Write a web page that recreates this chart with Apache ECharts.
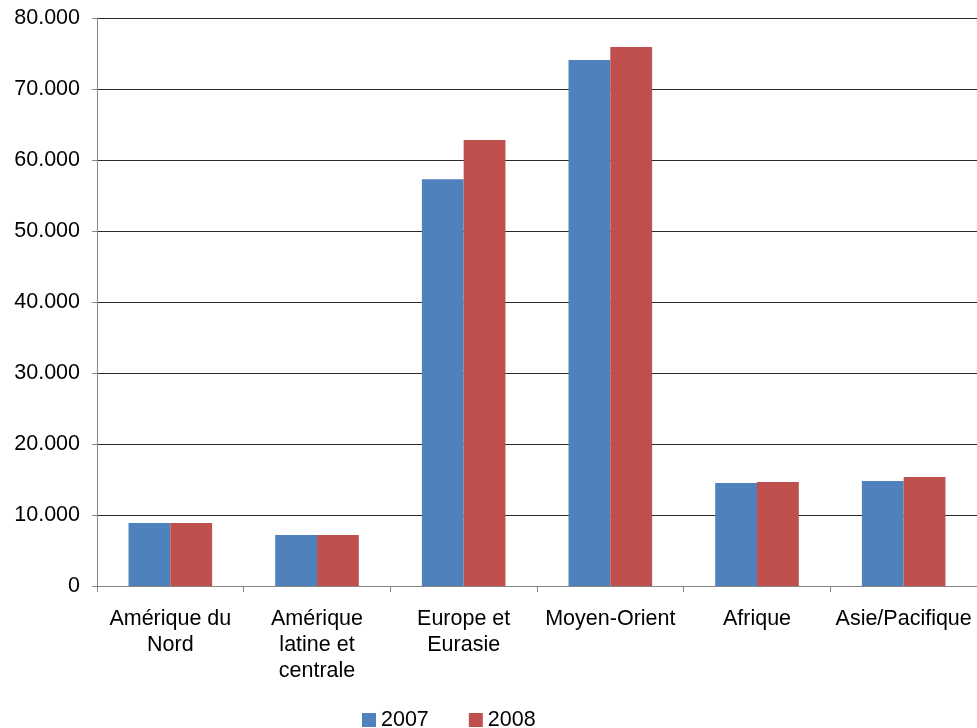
<!DOCTYPE html>
<html>
<head>
<meta charset="utf-8">
<script src="https://cdn.jsdelivr.net/npm/echarts@6/dist/echarts.min.js"></script>
<style>
  html, body { margin: 0; padding: 0; background: #fff; }
  #chart { width: 977px; height: 728px; }
</style>
</head>
<body>
<div id="chart"></div>
<script>
// Regions (line breaks follow the axis label layout)
const regions = [
  'Amérique du\nNord',
  'Amérique\nlatine et\ncentrale',
  'Europe et\nEurasie',
  'Moyen-Orient',
  'Afrique',
  'Asie/Pacifique'
];
const seriesNames = ['2007', '2008'];
const values2007 = [8870, 7180, 57300, 74100, 14500, 14800];
const values2008 = [8870, 7180, 62800, 75900, 14650, 15350];

const FONT = 'Liberation Sans, Arial, sans-serif';
const FONT_SIZE = 21.5;

// Thousands separator as a dot: 80000 -> "80.000"
function formatThousands(v) {
  return String(v).replace(/\B(?=(\d{3})+(?!\d))/g, '.');
}

const chart = echarts.init(document.getElementById('chart'), null, { renderer: 'canvas' });
chart.setOption({
  animation: false,
  backgroundColor: '#ffffff',
  textStyle: { fontFamily: FONT },
  grid: { left: 97, right: 0, top: 18, bottom: 142, containLabel: false },
  legend: {
    data: seriesNames,
    top: 709,
    left: 362,
    itemWidth: 14,
    itemHeight: 14,
    itemGap: 40,
    icon: 'rect',
    padding: 0,
    textStyle: { fontSize: FONT_SIZE, color: '#000', fontFamily: FONT }
  },
  xAxis: {
    type: 'category',
    data: regions,
    axisLine: { lineStyle: { color: '#868686', width: 1 } },
    axisTick: { show: true, alignWithLabel: false, length: 6, lineStyle: { color: '#868686' } },
    axisLabel: {
      color: '#000',
      fontSize: FONT_SIZE,
      fontFamily: FONT,
      lineHeight: 26,
      margin: 20,
      interval: 0,
      align: 'center'
    }
  },
  yAxis: {
    type: 'value',
    min: 0,
    max: 80000,
    interval: 10000,
    axisLine: { show: true, lineStyle: { color: '#868686', width: 1 } },
    axisTick: { show: true, length: 5, lineStyle: { color: '#868686' } },
    splitLine: { show: true, lineStyle: { color: '#2b2b2b', width: 1 } },
    axisLabel: {
      color: '#000',
      fontSize: FONT_SIZE,
      fontFamily: FONT,
      margin: 17,
      formatter: formatThousands
    }
  },
  series: [
    {
      name: seriesNames[0],
      type: 'bar',
      data: values2007,
      itemStyle: { color: '#4F81BD' },
      barGap: '0%',
      barCategoryGap: '43%'
    },
    {
      name: seriesNames[1],
      type: 'bar',
      data: values2008,
      itemStyle: { color: '#C0504D' },
      barGap: '0%',
      barCategoryGap: '43%'
    }
  ]
});
</script>
</body>
</html>
